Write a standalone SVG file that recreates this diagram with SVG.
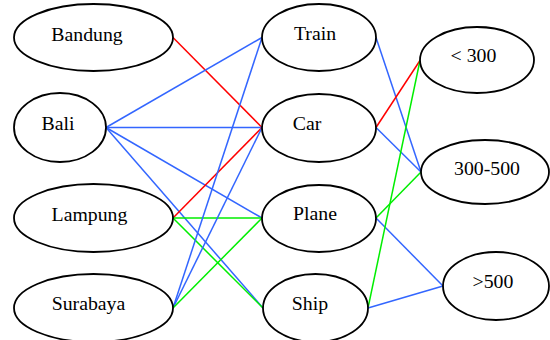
<svg xmlns="http://www.w3.org/2000/svg" width="550" height="340" viewBox="0 0 550 340">
<style>
.n ellipse{fill:#fff;stroke:#000;stroke-width:1.8}
.n text{font-family:'Liberation Serif','Times New Roman',Times,serif;font-size:19.8px;fill:#000;text-anchor:middle}
.e line{stroke-width:1.5}
.r{stroke:#ff0000}
.b{stroke:#3366ff}
.g{stroke:#00ee00}
</style>
<rect width="550" height="340" fill="#fff"/>
<g id="edges" class="e">
<line class="r" x1="173" y1="37.5" x2="262" y2="127.5"/>
<line class="b" x1="106" y1="127.5" x2="262" y2="37.5"/>
<line class="b" x1="106" y1="127.5" x2="262" y2="127.5"/>
<line class="b" x1="106" y1="127.5" x2="262" y2="218"/>
<line class="b" x1="106" y1="127.5" x2="263" y2="308"/>
<line class="r" x1="173" y1="218" x2="262" y2="127.5"/>
<line class="g" x1="173" y1="218" x2="262" y2="218"/>
<line class="g" x1="173" y1="218" x2="263" y2="308"/>
<line class="b" x1="173" y1="308" x2="262" y2="37.5"/>
<line class="b" x1="173" y1="308" x2="262" y2="127.5"/>
<line class="g" x1="173" y1="308" x2="262" y2="218"/>
<line class="b" x1="376" y1="37.5" x2="421" y2="172"/>
<line class="r" x1="376" y1="127.5" x2="420" y2="60.5"/>
<line class="b" x1="376" y1="127.5" x2="421" y2="172"/>
<line class="g" x1="376" y1="218" x2="421" y2="172"/>
<line class="b" x1="376" y1="218" x2="443" y2="286"/>
<line class="g" x1="368" y1="308" x2="420" y2="60.5"/>
<line class="b" x1="368" y1="308" x2="443" y2="286"/>
</g>
<g id="bandung" class="n"><ellipse cx="93.5" cy="37.5" rx="79.5" ry="33.5"/><text x="87" y="41" font-family="Liberation Serif, serif">Bandung</text></g>
<g id="bali" class="n"><ellipse cx="60" cy="127.5" rx="46" ry="34.5"/><text x="58" y="129.5" font-family="Liberation Serif, serif">Bali</text></g>
<g id="lampung" class="n"><ellipse cx="93.5" cy="218" rx="79.5" ry="34"/><text x="89.5" y="220.5" font-family="Liberation Serif, serif">Lampung</text></g>
<g id="surabaya" class="n"><ellipse cx="93.5" cy="308" rx="79.5" ry="34"/><text x="88.5" y="310" font-family="Liberation Serif, serif">Surabaya</text></g>
<g id="train" class="n"><ellipse cx="319" cy="37.5" rx="57" ry="33.5"/><text x="315" y="40" font-family="Liberation Serif, serif">Train</text></g>
<g id="car" class="n"><ellipse cx="319" cy="128" rx="57" ry="34"/><text x="307" y="130" font-family="Liberation Serif, serif">Car</text></g>
<g id="plane" class="n"><ellipse cx="319" cy="218.5" rx="57" ry="33.5"/><text x="315" y="220" font-family="Liberation Serif, serif">Plane</text></g>
<g id="ship" class="n"><ellipse cx="315.5" cy="308" rx="52.5" ry="34"/><text x="310" y="310" font-family="Liberation Serif, serif">Ship</text></g>
<g id="lt300" class="n"><ellipse cx="477" cy="60" rx="57" ry="33"/><text x="473.5" y="62.3" font-family="Liberation Serif, serif">&lt; 300</text></g>
<g id="r300-500" class="n"><ellipse cx="485" cy="172" rx="64" ry="32"/><text x="487" y="175" font-family="Liberation Serif, serif">300-500</text></g>
<g id="gt500" class="n"><ellipse cx="496" cy="286" rx="53" ry="34"/><text x="493" y="288" font-family="Liberation Serif, serif">&gt;500</text></g>
</svg>
